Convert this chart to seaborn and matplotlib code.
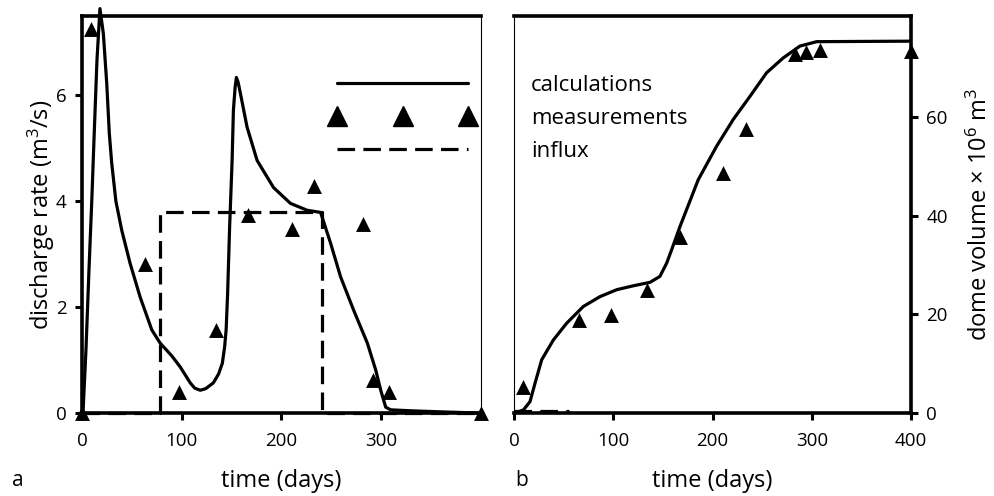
import numpy as np
import matplotlib
matplotlib.use('Agg')
import matplotlib.pyplot as plt
from matplotlib.lines import Line2D
import seaborn as sns

# panel a: modelled discharge rate (m3/s)
calc_t = [0, 1, 4, 7, 10, 12, 15, 18, 21.4, 24.8, 27.4, 29.8, 34, 39.9, 48.2, 58.3, 70, 78.4,
          90, 98.5, 108.5, 113, 118.6, 124, 131.7, 137, 140.7, 143, 144.5, 146, 148, 150.5,
          151.8, 153.5, 154.8, 156.5, 158.8, 165.5, 175.6, 192, 209, 225.8, 239.2, 249.2,
          259.3, 272.4, 286.1, 294.5, 299.5, 304.5, 309.5, 332.7, 362.8, 397]
calc_q = [0, 0, 1.2, 2.7, 4.1, 5.15, 6.66, 7.64, 7.17, 6.23, 5.28, 4.72, 4.0, 3.45, 2.83, 2.19,
          1.57, 1.32, 1.08, 0.87, 0.57, 0.47, 0.43, 0.46, 0.57, 0.74, 0.94, 1.25, 1.57, 2.26,
          3.51, 4.77, 5.72, 6.15, 6.34, 6.25, 6.04, 5.40, 4.77, 4.26, 3.96, 3.83, 3.79, 3.21,
          2.57, 1.94, 1.32, 0.81, 0.43, 0.11, 0.06, 0.04, 0.02, 0.0]

meas_t = [0, 9, 63, 97, 134, 166, 211, 233, 282, 292, 308, 400]
meas_q = [0, 7.26, 2.82, 0.40, 1.57, 3.74, 3.48, 4.28, 3.58, 0.62, 0.40, 0.0]

influx_t = [0, 78.4, 78.4, 241, 241, 400]
influx_q = [0, 0, 3.8, 3.8, 0, 0]

# panel b: dome volume (10^6 m3)
vol_t = [0.5, 9.4, 16.1, 21.1, 27.9, 39.6, 53, 69.8, 86.6, 103.4, 120.2, 137, 147, 153.8,
         158.8, 167.2, 185.6, 204.1, 220.8, 237.7, 254.5, 271.2, 288, 304.9, 398.8]
vol_v = [0, 0.6, 2.3, 6.0, 10.8, 14.8, 18.2, 21.6, 23.6, 25.0, 25.8, 26.5, 27.7, 30.4,
         33.1, 37.8, 47.3, 54.1, 59.5, 64.2, 69.0, 72.0, 74.4, 75.3, 75.4]

vol_meas_t = [9, 65, 98, 134, 167, 211, 234, 283, 294, 308, 400]
vol_meas_v = [5.3, 18.9, 19.9, 25.0, 35.6, 48.7, 57.5, 72.7, 73.2, 73.6, 73.4]

vol_influx_t = [0, 55]
vol_influx_v = [0.4, 0.4]

legend_labels = ['calculations', 'measurements', 'influx']

sns.set_theme(style='ticks')
plt.rcParams['font.family'] = ['Open Sans', 'DejaVu Sans']
plt.rcParams['mathtext.fontset'] = 'custom'
plt.rcParams['mathtext.rm'] = 'Open Sans'
plt.rcParams['mathtext.it'] = 'Open Sans:italic'
for key in ['text.color', 'axes.labelcolor', 'xtick.color', 'ytick.color', 'axes.edgecolor']:
    plt.rcParams[key] = 'black'

fig = plt.figure(figsize=(9.95, 4.96), dpi=100)
ax1 = fig.add_axes([0.0824, 0.1673, 0.401, 0.8004])
ax2 = fig.add_axes([0.5166, 0.1673, 0.399, 0.8004])

lw = 2.3
dash = (0, (5.5, 2.6))
msize = 115
label_fs = 17

# --- panel a ---
sns.lineplot(x=calc_t, y=calc_q, ax=ax1, color='black', linewidth=lw, sort=False, estimator=None)
sns.lineplot(x=influx_t, y=influx_q, ax=ax1, color='black', linewidth=lw, sort=False, estimator=None)
ax1.lines[-1].set_linestyle(dash)
sns.scatterplot(x=meas_t, y=meas_q, ax=ax1, marker='^', s=msize, color='black', linewidth=0, zorder=3)

ax1.set_xlim(0, 400)
ax1.set_ylim(0, 7.5)
ax1.set_xticks([0, 100, 200, 300])
ax1.set_yticks([0, 2, 4, 6])
ax1.set_xlabel('time (days)', fontsize=label_fs, labelpad=13)
ax1.set_ylabel(r'discharge rate (m$^{3}$/s)', fontsize=label_fs, labelpad=-1)
for side in ['left', 'top', 'bottom']:
    ax1.spines[side].set_linewidth(2.6)
ax1.spines['right'].set_linewidth(0.8)

# --- panel b ---
sns.lineplot(x=vol_t, y=vol_v, ax=ax2, color='black', linewidth=lw, sort=False, estimator=None)
sns.lineplot(x=vol_influx_t, y=vol_influx_v, ax=ax2, color='black', linewidth=lw, sort=False, estimator=None)
ax2.lines[-1].set_linestyle(dash)
sns.scatterplot(x=vol_meas_t, y=vol_meas_v, ax=ax2, marker='^', s=msize, color='black', linewidth=0, zorder=3)

ax2.set_xlim(0, 400)
ax2.set_ylim(0, 80.5)
ax2.set_xticks([0, 100, 200, 300, 400])
ax2.set_yticks([0, 20, 40, 60])
ax2.yaxis.tick_right()
ax2.yaxis.set_label_position('right')
ax2.set_xlabel('time (days)', fontsize=label_fs, labelpad=13)
ax2.set_ylabel(r'dome volume $\times$ 10$^{6}$ m$^{3}$', fontsize=label_fs, labelpad=14, rotation=90)
for side in ['right', 'top', 'bottom']:
    ax2.spines[side].set_linewidth(2.6)
ax2.spines['left'].set_linewidth(0.8)

for ax in (ax1, ax2):
    ax.tick_params(axis='both', labelsize=13.5, width=2.2, length=5, direction='out', color='black')
    ax.tick_params(axis='x', pad=9)
    ax.tick_params(axis='y', pad=6)
    for art in ax.lines + ax.collections:
        art.set_clip_on(False)

# legend: symbols in panel a, labels in panel b
handles = [
    Line2D([], [], color='black', linewidth=lw),
    Line2D([], [], color='black', linestyle='none', marker='^', markersize=15),
    Line2D([], [], color='black', linewidth=lw, linestyle=dash),
]
fs = 16
fig.legend(handles, legend_labels, loc='upper left', bbox_to_anchor=(336 / 995 - 0.006, 1 - 75 / 496),
           frameon=False, fontsize=fs, numpoints=3, handlelength=6.53, handletextpad=2.52,
           labelspacing=0.54, borderpad=0, borderaxespad=0)

fig.text(12 / 995, 1 - 481 / 496, 'a', fontsize=15, va='center', ha='left')
fig.text(515 / 995, 1 - 481 / 496, 'b', fontsize=15, va='center', ha='left')

fig.savefig('out.png', dpi=100)
